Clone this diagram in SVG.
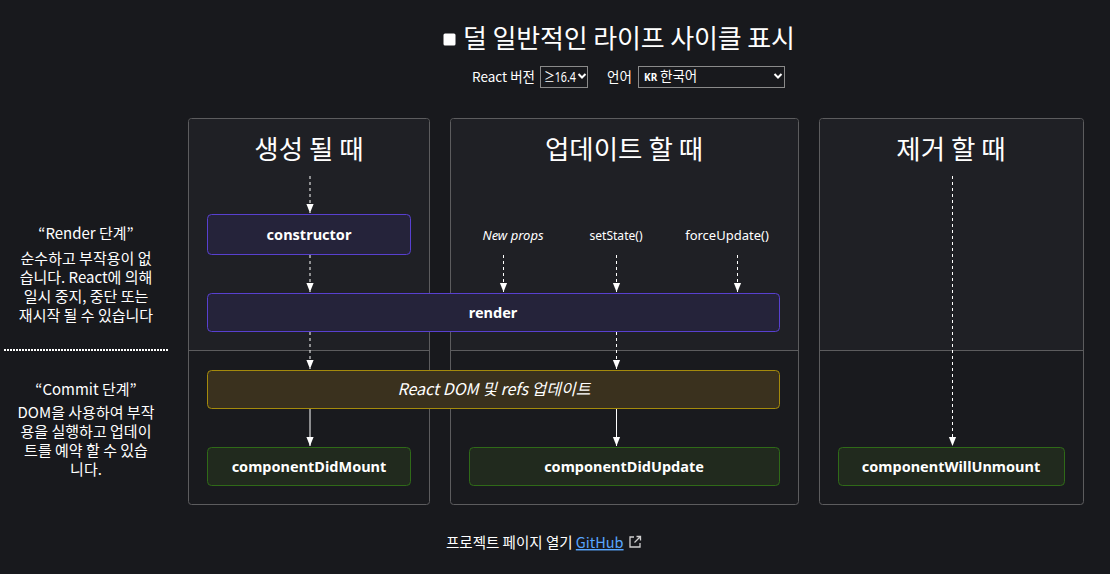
<svg xmlns="http://www.w3.org/2000/svg" width="1110" height="574" viewBox="0 0 1110 574">
<defs>
<marker id="ah" viewBox="0 0 10 10" refX="10" refY="5" markerWidth="9" markerHeight="9" markerUnits="userSpaceOnUse" orient="auto">
<path d="M0,1 L10,5 L0,9 z" fill="#ffffff"/>
</marker>
<style>
.t{font-family:"Noto Sans","Noto Sans CJK KR",sans-serif;fill:#ffffff}
.k{font-family:"Noto Sans CJK KR","Noto Sans",sans-serif;fill:#ffffff}
.col{fill:#191a1e;stroke:#5c5c5e;stroke-width:1}
.up{fill:#1f2025}
.div{stroke:#5c5c5e;stroke-width:1}
.rn{fill:#25233a;stroke:#5840d0;stroke-width:1}
.dn{fill:#3a311e;stroke:#a48a0c;stroke-width:1}
.cn{fill:#212a1e;stroke:#2f6a18;stroke-width:1}
.nl{font-family:"Noto Sans","Noto Sans CJK KR",sans-serif;font-weight:bold;font-size:14.5px;fill:#ffffff;text-anchor:middle}
.ttl{font-family:"Noto Sans CJK KR",sans-serif;font-size:26.5px;fill:#ffffff;text-anchor:middle}
.dash{stroke:#ffffff;stroke-width:1;stroke-dasharray:3 3;fill:none}
.sol{stroke:#ffffff;stroke-width:1;fill:none}
.side{font-family:"Noto Sans CJK KR","Noto Sans",sans-serif;font-size:15px;fill:#ffffff;text-anchor:middle}
.sel{fill:#18191d;stroke:#8a8a8a;stroke-width:1}
</style>
</defs>
<rect width="1110" height="574" fill="#18191d"/>

<g id="header">
<rect x="443.5" y="33.5" width="12" height="12" rx="1.5" fill="#ffffff"/>
<text class="k" x="463" y="48" font-size="26" textLength="332" lengthAdjust="spacing">덜 일반적인 라이프 사이클 표시</text>
<text class="k" x="472" y="82" font-size="13.5">React 버전</text>
<rect class="sel" x="540.5" y="66.5" width="47" height="21"/>
<text class="t" x="544" y="82" font-size="13.5" textLength="32" lengthAdjust="spacingAndGlyphs">≥16.4</text>
<path d="M578.5,74 L582,77.5 L585.5,74" stroke="#ffffff" stroke-width="2" fill="none"/>
<text class="k" x="607" y="82" font-size="13.5">언어</text>
<rect class="sel" x="638.5" y="66.5" width="146" height="21"/>
<text class="t" x="644" y="81" font-size="10" font-weight="bold">KR</text>
<text class="k" x="660" y="81" font-size="13.5">한국어</text>
<path d="M774.5,74 L778,77.5 L781.5,74" stroke="#ffffff" stroke-width="2" fill="none"/>
</g>

<g id="phase-labels">
<text class="side" x="86" y="239" font-size="16.5">“Render 단계”</text>
<text class="side" x="86" y="264">순수하고 부작용이 없</text>
<text class="side" x="86" y="283">습니다. React에 의해</text>
<text class="side" x="86" y="302">일시 중지, 중단 또는</text>
<text class="side" x="86" y="321">재시작 될 수 있습니다</text>
<line x1="4" y1="350" x2="168" y2="350" stroke="#ffffff" stroke-width="2" stroke-dasharray="2 1"/>
<text class="side" x="86" y="395" font-size="16.5">“Commit 단계”</text>
<text class="side" x="86" y="418">DOM을 사용하여 부작</text>
<text class="side" x="86" y="437">용을 실행하고 업데이</text>
<text class="side" x="86" y="456">트를 예약 할 수 있습</text>
<text class="side" x="86" y="475">니다.</text>
</g>

<g id="col-mount">
<rect class="col" x="188.5" y="118.5" width="241" height="386" rx="3"/>
<path class="up" d="M189,122 Q189,119 192,119 L426,119 Q429,119 429,122 L429,350 L189,350 z"/>
<line class="div" x1="189" y1="350.5" x2="429" y2="350.5"/>
<text class="ttl" x="309" y="159">생성 될 때</text>
</g>
<g id="col-update">
<rect class="col" x="450.5" y="118.5" width="348" height="386" rx="3"/>
<path class="up" d="M451,122 Q451,119 454,119 L795,119 Q798,119 798,122 L798,350 L451,350 z"/>
<line class="div" x1="451" y1="350.5" x2="798" y2="350.5"/>
<text class="ttl" x="624" y="159">업데이트 할 때</text>
</g>
<g id="col-unmount">
<rect class="col" x="819.5" y="118.5" width="264" height="386" rx="3"/>
<path class="up" d="M820,122 Q820,119 823,119 L1080,119 Q1083,119 1083,122 L1083,350 L820,350 z"/>
<line class="div" x1="820" y1="350.5" x2="1083" y2="350.5"/>
<text class="ttl" x="951" y="159">제거 할 때</text>
</g>

<g id="triggers">
<text class="t" x="513" y="240" font-size="13" font-style="italic" text-anchor="middle">New props</text>
<text class="t" x="616" y="240" font-size="13" text-anchor="middle" textLength="53" lengthAdjust="spacingAndGlyphs">setState()</text>
<text class="t" x="727" y="240" font-size="13" text-anchor="middle">forceUpdate()</text>
</g>

<g id="connectors">
<line class="dash" x1="310" y1="176" x2="310" y2="213" marker-end="url(#ah)"/>
<line class="dash" x1="310" y1="255" x2="310" y2="292" marker-end="url(#ah)"/>
<line class="dash" x1="310" y1="332" x2="310" y2="369" marker-end="url(#ah)"/>
<line class="sol" x1="310" y1="409" x2="310" y2="446" marker-end="url(#ah)"/>
<line class="dash" x1="503.5" y1="255" x2="503.5" y2="292" marker-end="url(#ah)"/>
<line class="dash" x1="616.5" y1="255" x2="616.5" y2="292" marker-end="url(#ah)"/>
<line class="dash" x1="737.5" y1="255" x2="737.5" y2="292" marker-end="url(#ah)"/>
<line class="dash" x1="616.5" y1="332" x2="616.5" y2="369" marker-end="url(#ah)"/>
<line class="sol" x1="616.5" y1="409" x2="616.5" y2="446" marker-end="url(#ah)"/>
<line class="dash" x1="952.5" y1="176" x2="952.5" y2="446" marker-end="url(#ah)"/>
</g>

<g id="constructor">
<rect class="rn" x="207.5" y="214.5" width="203" height="40" rx="4"/>
<text class="nl" x="309" y="240">constructor</text>
</g>
<g id="render">
<rect class="rn" x="207.5" y="293.5" width="572" height="38" rx="4"/>
<text class="nl" x="493" y="318">render</text>
</g>
<g id="react-dom-update">
<rect class="dn" x="207.5" y="370.5" width="572" height="38" rx="4"/>
<text class="k" x="494" y="395" font-size="16" font-style="italic" text-anchor="middle">React DOM 및 refs 업데이트</text>
</g>
<g id="componentDidMount">
<rect class="cn" x="207.5" y="447.5" width="203" height="38" rx="4"/>
<text class="nl" x="309" y="472">componentDidMount</text>
</g>
<g id="componentDidUpdate">
<rect class="cn" x="469.5" y="447.5" width="310" height="38" rx="4"/>
<text class="nl" x="624" y="472">componentDidUpdate</text>
</g>
<g id="componentWillUnmount">
<rect class="cn" x="838.5" y="447.5" width="226" height="38" rx="4"/>
<text class="nl" x="951" y="472">componentWillUnmount</text>
</g>

<g id="footer">
<text class="k" x="446" y="548" font-size="14.5">프로젝트 페이지 열기 <tspan fill="#58a6ff" text-decoration="underline">GitHub</tspan></text>
<path d="M634,537 L630,537 L630,547 L640,547 L640,543" stroke="#d0d0d0" stroke-width="1.3" fill="none"/>
<path d="M634.5,542.5 L640,537 M636.5,536.5 L640.5,536.5 L640.5,540.5" stroke="#d0d0d0" stroke-width="1.3" fill="none"/>
</g>
</svg>
